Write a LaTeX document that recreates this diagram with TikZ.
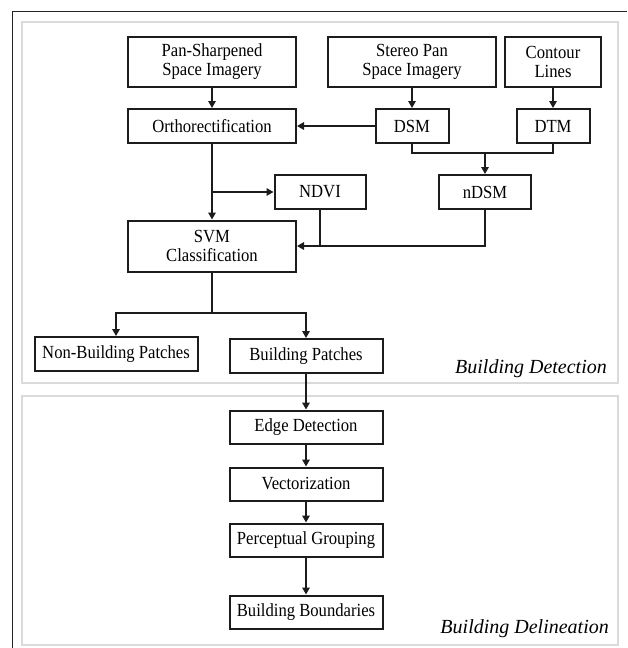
\documentclass[tikz,border=0pt]{standalone}
\usepackage{fontspec}
\setmainfont{Liberation Serif}[FakeStretch=0.9]
\newfontfamily\panelfont{Liberation Serif}
\usepackage{xcolor}
\usetikzlibrary{arrows.meta, positioning, calc}
\definecolor{framedark}{HTML}{2A2420}
\definecolor{panelgray}{HTML}{DADADA}
\definecolor{inkdark}{HTML}{1C1C1C}

\begin{document}
\begin{tikzpicture}[x=1pt, y=-1pt,
            proc/.style={rectangle, draw=inkdark, line width=2pt, inner sep=0pt, align=center, font=\fontsize{18.5pt}{19pt}\selectfont},
            flow/.style={inkdark, line width=1.5pt},
            arr/.style={flow, -{Triangle[length=7pt, width=7.5pt]}},
            panel/.style={draw=panelgray, line width=1.5pt},
            tag/.style={font=\panelfont\fontsize{20pt}{20pt}\itshape\selectfont, inner sep=0pt}]
            \useasboundingbox (0,0) rectangle (627,648);
            \draw[framedark, line width=1pt] (12,648) -- (12,11) -- (627,11);
            \draw[panel] (22,22) rectangle (618,383);
            \draw[panel] (22,396) rectangle (618,645);
            \node[proc, minimum width=168pt, minimum height=50pt] (pan) at (212,62) {Pan-Sharpened\\Space Imagery};
            \node[proc, minimum width=168pt, minimum height=50pt] (stereo) at (412,62) {Stereo Pan\\Space Imagery};
            \node[proc, minimum width=96pt, minimum height=50pt] (contour) at (553,62) {Contour\\Lines};
            \node[proc, minimum width=168pt, minimum height=34pt] (ortho) at (212,126) {Orthorectification};
            \node[proc, minimum width=73pt, minimum height=34pt] (dsm) at (412,126) {DSM};
            \node[proc, minimum width=73pt, minimum height=34pt] (dtm) at (553,126) {DTM};
            \node[proc, minimum width=91pt, minimum height=34pt] (ndvi) at (320,192) {NDVI};
            \node[proc, minimum width=92pt, minimum height=34pt] (ndsm) at (485,192) {nDSM};
            \node[proc, minimum width=168pt, minimum height=51pt] (svm) at (212,246) {SVM\\Classification};
            \node[proc, minimum width=163pt, minimum height=34pt] (nonb) at (116,354) {Non-Building Patches};
            \node[proc, minimum width=153pt, minimum height=34pt] (bpatch) at (306,356) {Building Patches};
            \node[proc, minimum width=153pt, minimum height=33pt] (edge) at (306,427) {Edge Detection};
            \node[proc, minimum width=153pt, minimum height=33pt] (vect) at (306,484) {Vectorization};
            \node[proc, minimum width=153pt, minimum height=33pt] (percep) at (306,540) {Perceptual Grouping};
            \node[proc, minimum width=153pt, minimum height=33pt] (bound) at (306,612) {Building Boundaries};
            \node[tag, anchor=base east] (detlabel) at (607,373) {Building Detection};
            \node[tag, anchor=base east] (dellabel) at (609,633) {Building Delineation};
            \coordinate (dsmjoin) at (485,153);
            \coordinate (split) at (212,313);
            \draw[arr] (pan) -- (ortho);
            \draw[arr] (stereo) -- (dsm);
            \draw[arr] (contour) -- (dtm);
            \draw[arr] (dsm) -- (ortho);
            \draw[flow] (dsm.south) |- (dsmjoin) -| (dtm.south);
            \draw[arr] (dsmjoin) -- (ndsm);
            \draw[arr] (ortho) -- (svm);
            \draw[arr] (ortho.south |- ndvi.west) -- (ndvi);
            \draw[flow] (ndvi.south) -- (ndvi.south |- svm.east);
            \draw[arr] (ndsm.south) |- (svm.east);
            \draw[flow] (svm.south) -- (split);
            \draw[arr] (split) -| (nonb.north);
            \draw[arr] (split) -| (bpatch.north);
            \draw[arr] (bpatch) -- (edge);
            \draw[arr] (edge) -- (vect);
            \draw[arr] (vect) -- (percep);
            \draw[arr] (percep) -- (bound);
        \end{tikzpicture}
\end{document}
